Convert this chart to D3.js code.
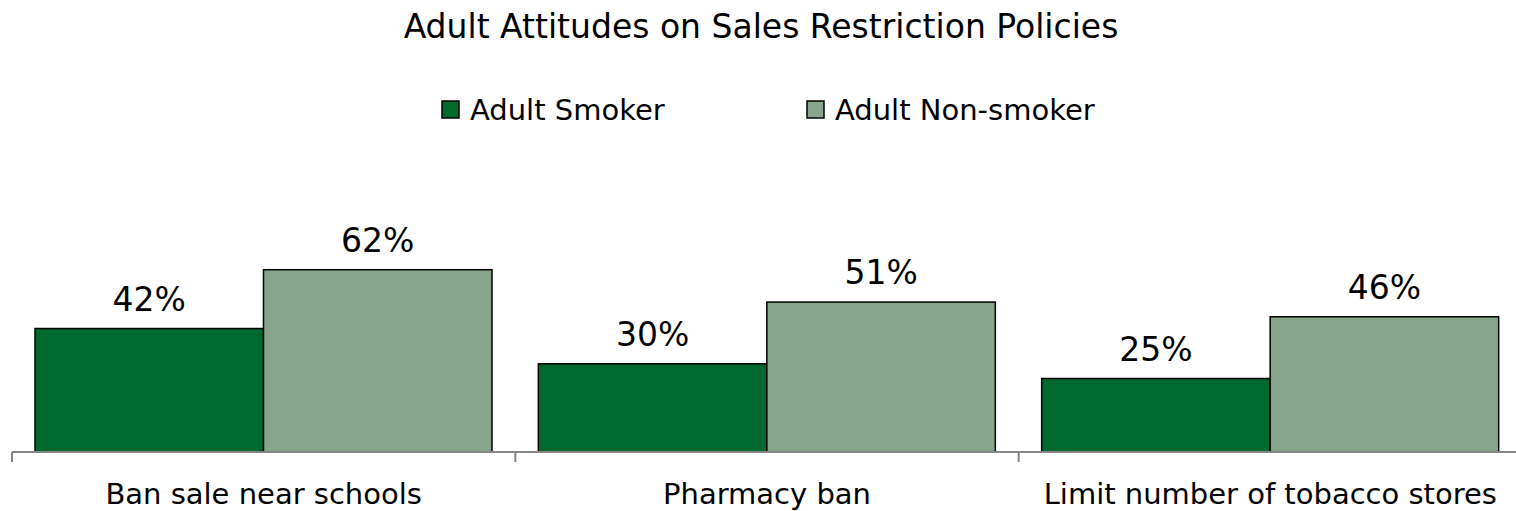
<!DOCTYPE html>
<html>
<head>
<meta charset="utf-8">
<script src="https://cdn.jsdelivr.net/npm/d3@7"></script>
<style>
  html, body { margin: 0; padding: 0; background: #fff; }
  svg { display: block; }
  text { font-family: "DejaVu Sans", sans-serif; fill: #000; }
</style>
</head>
<body>
<svg id="chart" width="1516" height="511"></svg>
<script>
const title = "Adult Attitudes on Sales Restriction Policies";
const categories = ["Ban sale near schools", "Pharmacy ban", "Limit number of tobacco stores"];
const seriesNames = ["Adult Smoker", "Adult Non-smoker"];
const smokerValues = [42, 30, 25];
const nonSmokerValues = [62, 51, 46];
const colors = ["#00692E", "#87A58B"];

const svg = d3.select("#chart");

const x0 = d3.scaleBand().domain(categories).range([12, 1522]).paddingInner(0).paddingOuter(0);
const x1 = d3.scaleBand().domain(seriesNames).range([23, 480]).padding(0);
const y = d3.scaleLinear().domain([0, 100]).range([452, 158]);

const data = categories.map((c, i) => ({ cat: c, values: [smokerValues[i], nonSmokerValues[i]] }));

// Title
svg.append("text").attr("x", 761).attr("y", 38).attr("text-anchor", "middle")
  .style("font-size", "33px").text(title);

// Legend
const legendItems = [{ x: 442, name: seriesNames[0], color: colors[0] }, { x: 807, name: seriesNames[1], color: colors[1] }];
const lg = svg.append("g");
legendItems.forEach(d => {
  lg.append("rect").attr("x", d.x).attr("y", 101).attr("width", 17).attr("height", 17)
    .attr("fill", d.color).attr("stroke", "#000").attr("stroke-width", 1.5);
  lg.append("text").attr("x", d.x + 28).attr("y", 120).style("font-size", "29px").text(d.name);
});

// Bars
const groups = svg.append("g").selectAll("g").data(data).join("g")
  .attr("transform", d => `translate(${x0(d.cat)},0)`);
groups.selectAll("rect").data(d => d.values.map((v, i) => ({ v, s: seriesNames[i], i })))
  .join("rect")
  .attr("x", d => x1(d.s)).attr("width", x1.bandwidth())
  .attr("y", d => y(d.v)).attr("height", d => y(0) - y(d.v))
  .attr("fill", d => colors[d.i]).attr("stroke", "#000").attr("stroke-width", 1.5);
groups.selectAll("text.val").data(d => d.values.map((v, i) => ({ v, s: seriesNames[i] })))
  .join("text").attr("class", "val")
  .attr("x", d => x1(d.s) + x1.bandwidth() / 2).attr("y", d => y(d.v) - 18)
  .attr("text-anchor", "middle").style("font-size", "33px")
  .text(d => d.v + "%");

// Axis
const ag = svg.append("g").attr("transform", `translate(0,${y(0)})`);
ag.append("line").attr("x1", 12).attr("x2", 1516).attr("y1", 0).attr("y2", 0)
  .attr("stroke", "#868686").attr("stroke-width", 2);
const tickPos = categories.map(c => x0(c));
ag.selectAll("line.tick").data(tickPos).join("line").attr("class", "tick")
  .attr("x1", d => d).attr("x2", d => d).attr("y1", 0).attr("y2", 10)
  .attr("stroke", "#868686").attr("stroke-width", 2);

// Category labels
svg.append("g").selectAll("text").data(categories).join("text")
  .attr("x", d => x0(d) + x0.bandwidth() / 2).attr("y", 504)
  .attr("text-anchor", "middle").style("font-size", "29px").text(d => d);
</script>
</body>
</html>
